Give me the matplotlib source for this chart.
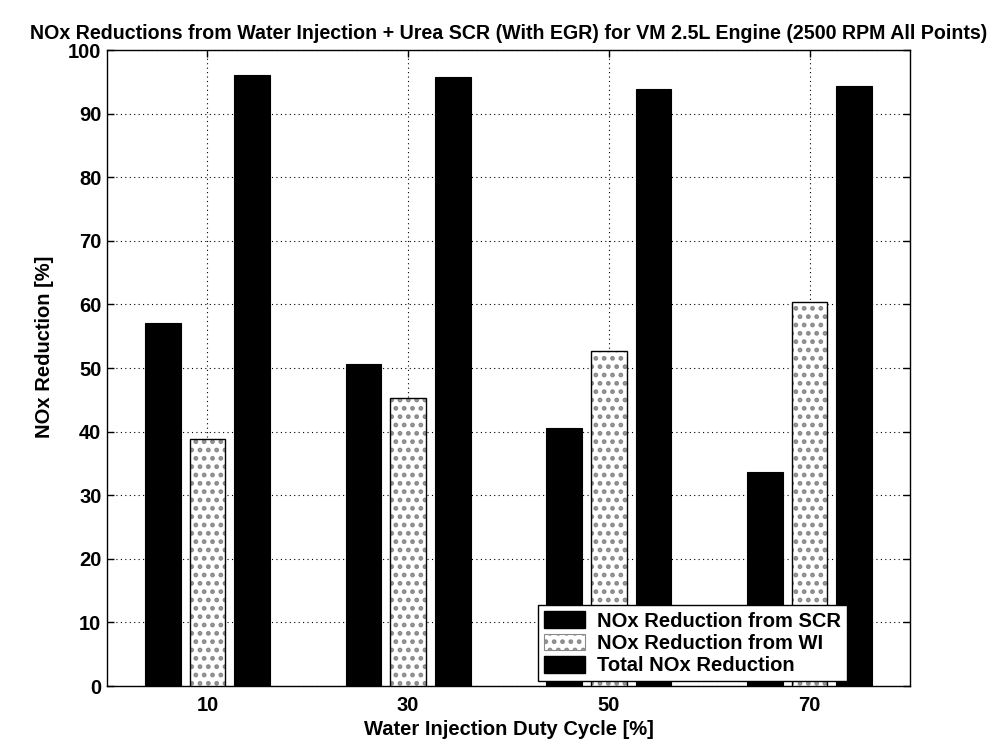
from __future__ import annotations

import matplotlib

matplotlib.use("Agg")
import matplotlib.pyplot as plt
import numpy as np
from matplotlib.patches import Patch


DUTY_CYCLES = ["10", "30", "50", "70"]
SCR_REDUCTION = [57.1, 50.6, 40.6, 33.6]
WI_REDUCTION = [38.8, 45.3, 52.6, 60.4]
TOTAL_REDUCTION = [96.1, 95.7, 93.8, 94.4]
SERIES_LABELS = [
    "NOx Reduction from SCR",
    "NOx Reduction from WI",
    "Total NOx Reduction",
]
Y_TICKS = list(range(0, 101, 10))

TITLE = (
    "NOx Reductions from Water Injection + Urea SCR (With EGR) "
    "for VM 2.5L Engine (2500 RPM All Points)"
)

FONT_SIZE = 14.5
HATCH_GREY = "#8a8a8a"

plt.rcParams["font.family"] = ["Liberation Sans", "DejaVu Sans"]
plt.rcParams["font.weight"] = "bold"
plt.rcParams["hatch.linewidth"] = 2.2


def main() -> None:
    fig = plt.figure(figsize=(9.97, 7.41), dpi=100)
    # axes box measured in pixels: left 107, right 910, top 50, bottom 686
    ax = fig.add_axes([107 / 997, 1 - 686 / 741, 803 / 997, 636 / 741])

    x = np.arange(1, len(DUTY_CYCLES) + 1)
    spacing = 0.222
    width = 0.178

    ax.bar(x - spacing, SCR_REDUCTION, width, color="black", edgecolor="black",
           linewidth=0.8, zorder=3)
    # grey dotted fill first, black outline on top
    ax.bar(x, WI_REDUCTION, width, color="white", edgecolor=HATCH_GREY,
           linewidth=0, hatch="..", zorder=3)
    ax.bar(x, WI_REDUCTION, width, color="none", edgecolor="black",
           linewidth=1.0, zorder=4)
    ax.bar(x + spacing, TOTAL_REDUCTION, width, color="black", edgecolor="black",
           linewidth=0.8, zorder=3)

    ax.set_xlim(0.5, 4.5)
    ax.set_ylim(0, 100)
    ax.set_xticks(x)
    ax.set_xticklabels(DUTY_CYCLES)
    ax.set_yticks(Y_TICKS)

    ax.grid(True, color="black", linestyle=(0, (1, 3)), linewidth=0.8, zorder=0)
    ax.set_axisbelow(True)

    ax.tick_params(axis="both", direction="in", length=5, width=1,
                   labelsize=FONT_SIZE, top=True, right=True, color="black")
    ax.tick_params(axis="y", pad=4)
    ax.tick_params(axis="x", pad=7)
    for spine in ax.spines.values():
        spine.set_linewidth(1.0)
        spine.set_color("black")

    ax.set_title(TITLE, fontsize=14.1, fontweight="bold", pad=8)
    ax.set_xlabel("Water Injection Duty Cycle [%]", fontsize=FONT_SIZE,
                  fontweight="bold", labelpad=4)
    ax.set_ylabel("NOx Reduction [%]", fontsize=FONT_SIZE, fontweight="bold")
    ax.yaxis.set_label_coords(-0.066, 0.533)

    handles = [
        Patch(facecolor="black", edgecolor="black"),
        Patch(facecolor="white", edgecolor=HATCH_GREY, hatch="..", linewidth=0.8),
        Patch(facecolor="black", edgecolor="black"),
    ]
    legend = ax.legend(
        handles,
        SERIES_LABELS,
        loc="upper left",
        bbox_to_anchor=(0.537, 0.127),
        borderaxespad=0,
        fontsize=FONT_SIZE,
        frameon=True,
        fancybox=False,
        edgecolor="black",
        framealpha=1,
        handlelength=2.0,
        handleheight=0.9,
        handletextpad=0.6,
        labelspacing=0.15,
        borderpad=0.3,
    )
    legend.get_frame().set_linewidth(1.0)
    legend.set_zorder(5)

    fig.savefig("out.png", dpi=100)
    plt.close(fig)


if __name__ == "__main__":
    main()
